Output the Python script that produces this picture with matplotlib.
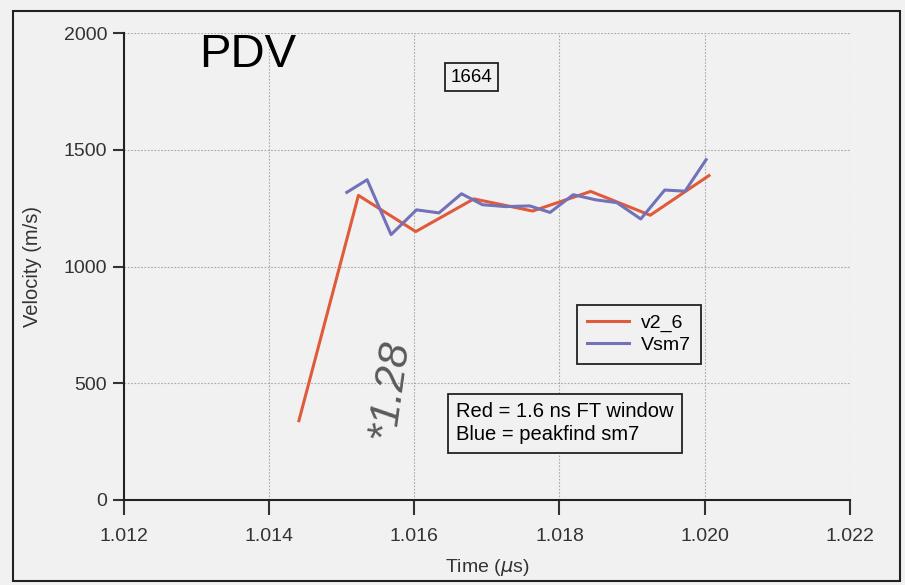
import matplotlib
matplotlib.use('Agg')
import matplotlib.pyplot as plt
from matplotlib.patches import Rectangle

plt.rcParams['font.family'] = ['Liberation Sans', 'DejaVu Sans']

# red trace: 1.6 ns FT window
t_red = [1.01441, 1.01523, 1.01602, 1.01682, 1.01763, 1.01843, 1.01925, 1.02006]
v_red = [340, 1305, 1150, 1290, 1238, 1322, 1220, 1390]

# blue trace: peakfind sm7
t_blue = [1.01507, 1.01535, 1.01568, 1.01603, 1.01634, 1.01665, 1.01694, 1.01726, 1.01759,
          1.01787, 1.01819, 1.01850, 1.01879, 1.01912, 1.01945, 1.01973, 1.02002]
v_blue = [1318, 1372, 1137, 1243, 1230, 1312, 1265, 1257, 1260,
          1232, 1308, 1286, 1274, 1204, 1328, 1323, 1458]

x_ticks = [1.012, 1.014, 1.016, 1.018, 1.020, 1.022]
x_labels = ['1.012', '1.014', '1.016', '1.018', '1.020', '1.022']
y_ticks = [0, 500, 1000, 1500, 2000]

bg = '#f1f1f1'
red = '#e05a3c'
blue = '#7272b8'

fig = plt.figure(figsize=(9.05, 5.85), dpi=100, facecolor=bg)
ax = fig.add_axes([0.137, 0.1453, 0.802, 0.798])
ax.set_facecolor(bg)

ax.plot(t_red, v_red, color=red, lw=2.2, label='v2_6')
ax.plot(t_blue, v_blue, color=blue, lw=2.2, label='Vsm7')

ax.set_xlim(1.012, 1.022)
ax.set_ylim(0, 2000)
ax.set_xticks(x_ticks)
ax.set_xticklabels(x_labels)
ax.set_yticks(y_ticks)
ax.grid(True, color='#a8a8a8', ls=(0, (1.5, 1.5)), lw=0.8)

for s in ['top', 'right']:
    ax.spines[s].set_visible(False)
for s in ['left', 'bottom']:
    ax.spines[s].set_linewidth(1.5)
    ax.spines[s].set_color('#222222')
ax.tick_params(axis='x', direction='out', length=11, width=1.5, pad=9, labelsize=14, colors='#333333')
ax.tick_params(axis='y', direction='out', length=8, width=1.5, pad=4, labelsize=14, colors='#333333')

ax.set_xlabel('Time ($\\mu$s)', fontsize=14, labelpad=9, color='#333333')
ax.set_ylabel('Velocity (m/s)', fontsize=14.5, labelpad=16, color='#333333')

leg = ax.legend(loc='upper left', bbox_to_anchor=(0.624, 0.418), fontsize=14, frameon=True,
                fancybox=False, edgecolor='#222222', facecolor=bg, framealpha=1,
                handlelength=2.2, handletextpad=0.6, borderpad=0.5, labelspacing=0.2,
                borderaxespad=0)
leg.get_frame().set_linewidth(1.3)

ax.text(0.458, 0.21, 'Red = 1.6 ns FT window\nBlue = peakfind sm7', transform=ax.transAxes,
        fontsize=14.5, va='top', ha='left', linespacing=1.3,
        bbox=dict(boxstyle='square,pad=0.42', facecolor=bg, edgecolor='#222222', lw=1.3))

ax.text(0.479, 0.906, '1664', transform=ax.transAxes, fontsize=13.5, ha='center', va='center',
        bbox=dict(boxstyle='square,pad=0.3', facecolor=bg, edgecolor='#222222', lw=1.3))

ax.text(0.171, 0.953, 'PDV', transform=ax.transAxes, fontsize=34, ha='center', va='center')

# handwritten note on the scan
ax.text(0.366, 0.236, '*1.28', transform=ax.transAxes, fontsize=31, rotation=82,
        ha='center', va='center', color='#5a5a5a', style='italic')

# edges of the scanned page
fig.patches.append(Rectangle((13 / 905, 4 / 585), 887 / 905, 570 / 585, transform=fig.transFigure,
                             fill=False, edgecolor='#222222', lw=1.5))

fig.savefig('out.png', dpi=100, facecolor=bg)
